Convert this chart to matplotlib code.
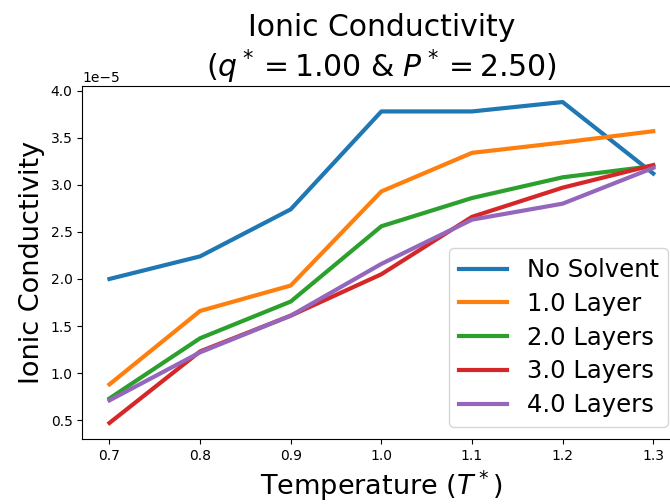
import matplotlib
matplotlib.use("Agg")
import matplotlib.pyplot as plt

temperature = [0.7, 0.8, 0.9, 1.0, 1.1, 1.2, 1.3]
no_solvent = [2.00, 2.24, 2.74, 3.78, 3.78, 3.88, 3.12]
layer_1 = [0.88, 1.66, 1.93, 2.93, 3.34, 3.45, 3.57]
layers_2 = [0.73, 1.37, 1.76, 2.56, 2.86, 3.08, 3.20]
layers_3 = [0.47, 1.23, 1.61, 2.05, 2.66, 2.97, 3.21]
layers_4 = [0.71, 1.22, 1.61, 2.16, 2.63, 2.80, 3.18]
labels = ["No Solvent", "1.0 Layer", "2.0 Layers", "3.0 Layers", "4.0 Layers"]
series = [no_solvent, layer_1, layers_2, layers_3, layers_4]
scale = 1e-5

fig = plt.figure(figsize=(6.7, 5.04), dpi=100)
ax = fig.add_axes([0.1228, 0.129, 0.8928, 0.7004])
for vals, lab in zip(series, labels):
    ax.plot(temperature, [v * scale for v in vals], lw=3, label=lab)

ax.set_title("Ionic Conductivity\n($q^* = 1.00$ & $P^* = 2.50$)", fontsize=21.5)
ax.set_xlabel("Temperature ($T^*$)", fontsize=19.5)
ax.set_ylabel("Ionic Conductivity", fontsize=19.5)
ax.legend(fontsize=17.5, loc="lower right", labelspacing=0.4)
fig.savefig("out.png", dpi=100)
